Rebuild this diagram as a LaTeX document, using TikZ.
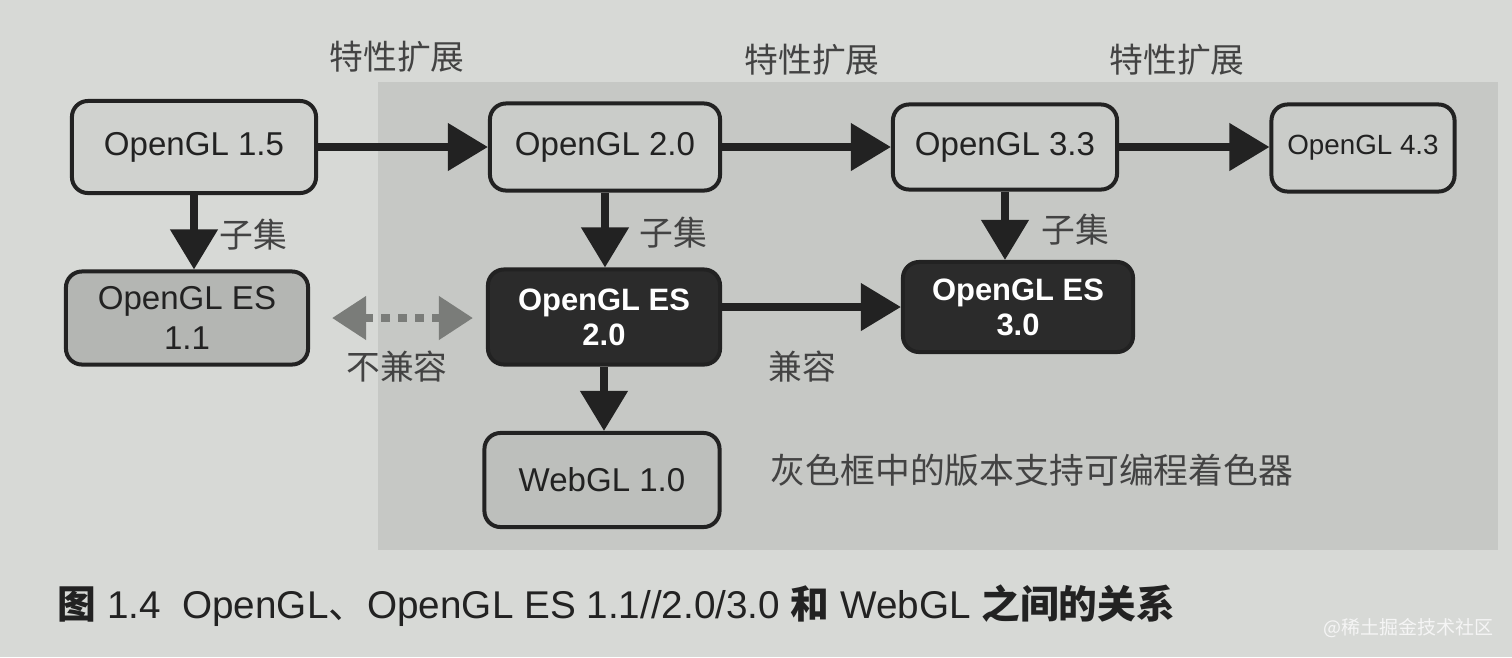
\documentclass[tikz,border=0pt]{standalone}
\usepackage{fontspec}
\setmainfont{Liberation Sans}
\newfontfamily\cjk{Noto Sans CJK SC}
\usetikzlibrary{arrows.meta}
\definecolor{pagebg}{HTML}{D7D9D6}
\definecolor{panel}{HTML}{C6C8C5}
\definecolor{lightbox}{HTML}{D0D2CF}
\definecolor{panelbox}{HTML}{CACCC9}
\definecolor{midbox}{HTML}{B4B6B3}
\definecolor{webbox}{HTML}{BDBFBC}
\definecolor{darkbox}{HTML}{2B2B2B}
\definecolor{ink}{HTML}{222222}
\definecolor{dotgray}{HTML}{7A7C79}
\begin{document}
\begin{tikzpicture}[x=0.01cm,y=-0.01cm,
  box/.style={draw=ink,line width=0.04cm,rounded corners=0.16cm,align=center,
    text=ink,font=\fontsize{9.4}{11.4}\selectfont,inner sep=0pt},
  dkbox/.style={box,fill=darkbox,text=white,font=\fontsize{8.8}{10}\selectfont\bfseries},
  flow/.style={draw=ink,line width=0.075cm,-{Triangle[length=0.40cm,width=0.46cm]}},
  dotarrow/.style={draw=dotgray,line width=0.075cm,dash pattern=on 0.09cm off 0.08cm,
    {Triangle[length=0.34cm,width=0.42cm]}-{Triangle[length=0.34cm,width=0.42cm]}},
  lbl/.style={text=ink!85,font=\cjk\fontsize{9.6}{11}\selectfont,inner sep=0pt}]
\useasboundingbox (0,0) rectangle (1512,657);
\fill[pagebg] (0,0) rectangle (1512,657);
\fill[panel] (378,82) rectangle (1498,550);
% nodes
\node[box,fill=lightbox,minimum width=2.44cm,minimum height=0.92cm] (g15) at (194,147) {OpenGL 1.5};
\node[box,fill=panelbox,minimum width=2.30cm,minimum height=0.87cm] (g20) at (605,147) {OpenGL 2.0};
\node[box,fill=panelbox,minimum width=2.24cm,minimum height=0.85cm] (g33) at (1005,147) {OpenGL 3.3};
\node[box,fill=panelbox,minimum width=1.83cm,minimum height=0.87cm,font=\fontsize{7.9}{9}\selectfont] (g43) at (1363,148) {OpenGL 4.3};
\node[box,fill=midbox,minimum width=2.42cm,minimum height=0.93cm] (es11) at (187,318) {OpenGL ES\\1.1};
\node[dkbox,minimum width=2.32cm,minimum height=0.95cm] (es20) at (604,317) {OpenGL ES\\2.0};
\node[dkbox,minimum width=2.30cm,minimum height=0.90cm] (es30) at (1018,307) {OpenGL ES\\3.0};
\node[box,fill=webbox,minimum width=2.35cm,minimum height=0.94cm] (web) at (602,480) {WebGL 1.0};
% connectors
\draw[flow] (g15.east) -- (g20.west |- g15.east);
\draw[flow] (g20.east) -- (g33.west |- g20.east);
\draw[flow] (g33.east) -- (g43.west |- g33.east);
\draw[flow] (g15.south) -- (g15.south |- es11.north);
\draw[flow] (g20.south) -- (g20.south |- es20.north);
\draw[flow] (g33.south) -- (g33.south |- es30.north);
\draw[flow] (es20.south) -- (es20.south |- web.north);
\draw[flow] (es20.east |- es30.west) -- (es30.west);
\draw[dotarrow,shorten <=0.22cm,shorten >=0.13cm] (es11.east) -- (es20.west |- es11.east);
% labels
\node[lbl] (t1) at (397,57) {特性扩展};
\node[lbl] (t2) at (812,60) {特性扩展};
\node[lbl] (t3) at (1177,60) {特性扩展};
\node[lbl] (s1) at (253,235) {子集};
\node[lbl] (s2) at (673,233) {子集};
\node[lbl] (s3) at (1075,230) {子集};
\node[lbl] (nc) at (397,367) {不兼容};
\node[lbl] (cp) at (802,367) {兼容};
\node[lbl,font=\cjk\fontsize{9.9}{11}\selectfont] (note) at (1032,470) {灰色框中的版本支持可编程着色器};
\node[anchor=west,inner sep=0pt,text=ink,font=\fontsize{11}{13}\selectfont] (cap) at (57,606)
  {{\cjk\bfseries 图}\ 1.4\ \ OpenGL{\cjk 、}OpenGL ES 1.1//2.0/3.0 {\cjk\bfseries 和} WebGL {\cjk\bfseries 之间的关系}};
\node[anchor=east,inner sep=0pt,text=white!92!gray,font=\cjk\fontsize{5.4}{6}\selectfont] (wm) at (1494,628) {@稀土掘金技术社区};
\end{tikzpicture}
\end{document}
